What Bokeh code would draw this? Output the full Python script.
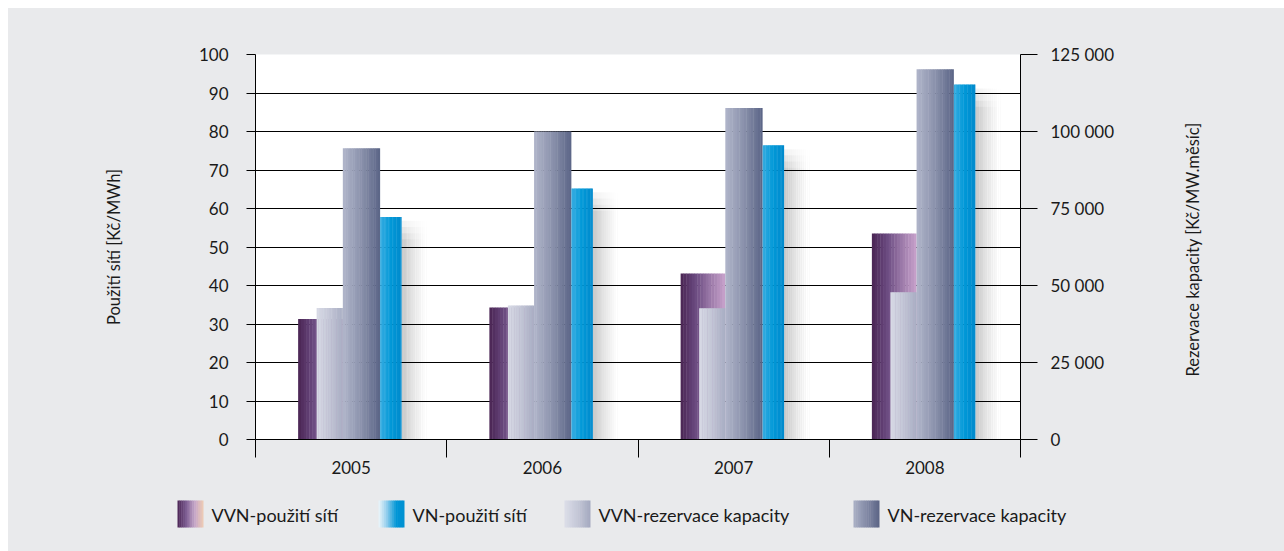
from bokeh.plotting import figure
from bokeh.models import Range1d, LinearAxis, FixedTicker, ColumnDataSource
from bokeh.layouts import column, row
from bokeh.embed import file_html
from bokeh.resources import INLINE
from bokeh.core.properties import value
import math

# ---------------- data ----------------
years = ["2005", "2006", "2007", "2008"]
vvn_pouziti = [31.3, 34.3, 43.1, 53.5]          # Kč/MWh (left axis)
vn_pouziti = [57.8, 65.2, 76.4, 92.2]           # Kč/MWh (left axis)
vvn_rezervace = [42700, 43500, 42600, 47800]    # Kč/MW.měsíc (right axis)
vn_rezervace = [94600, 100000, 107600, 120200]  # Kč/MW.měsíc (right axis)
left_ticks = list(range(0, 101, 10))
right_ticks = [0, 25000, 50000, 75000, 100000, 125000]
right_tick_labels = ["0", "25 000", "50 000", "75 000", "100 000", "125 000"]
left_title = "Použití sítí [Kč/MWh]"
right_title = "Rezervace kapacity [Kč/MW.měsíc]"
legend_labels = ["VVN-použití sítí", "VN-použití sítí", "VVN-rezervace kapacity", "VN-rezervace kapacity"]

FONT = "Lato"
TXT = "#1a1a1a"
BG = "#e9eaec"

W_TOTAL, H = 1276, 482
RT_W = 110
W = W_TOTAL - RT_W
LEFT_B, TOP_B, BOT_B = 247, 46, 51
FRAME_W = 765
RIGHT_B = W - LEFT_B - FRAME_W
CW = FRAME_W / len(years)          # px per category

p = figure(width=W, height=H, output_backend="svg", toolbar_location=None, title=None,
           x_range=Range1d(0, len(years)), y_range=Range1d(0, 100),
           min_border_left=LEFT_B, min_border_right=RIGHT_B,
           min_border_top=TOP_B, min_border_bottom=BOT_B)
p.frame_align = False
p.extra_y_ranges = {"r": Range1d(0, 125000)}
p.background_fill_color = "white"
p.border_fill_color = BG
p.outline_line_color = None
p.xgrid.grid_line_color = None
p.ygrid.grid_line_color = "black"
p.ygrid.grid_line_width = 1


def hex2rgb(h):
    h = h.lstrip("#")
    return tuple(int(h[i:i + 2], 16) for i in (0, 2, 4))


def interp(stops, t):
    n = len(stops) - 1
    pos = t * n
    i = min(int(pos), n - 1)
    f = pos - i
    a, b = hex2rgb(stops[i]), hex2rgb(stops[i + 1])
    c = [round(a[k] + (b[k] - a[k]) * f) for k in range(3)]
    return "#%02x%02x%02x" % tuple(c)


def grad_bars(fig, values, x0, x1, stops, n=16, y_range_name="default"):
    L, R, T, C = [], [], [], []
    for i, v in enumerate(values):
        c = i + 0.5
        for k in range(n):
            l = c + (x0 + (x1 - x0) * k / n) / CW
            r = c + (x0 + (x1 - x0) * (k + 1) / n + (0.4 if k < n - 1 else 0)) / CW
            L.append(l); R.append(r); T.append(v); C.append(interp(stops, (k + 0.5) / n))
    src = ColumnDataSource(dict(left=L, right=R, top=T, color=C))
    fig.quad(left="left", right="right", top="top", bottom=0, fill_color="color",
             line_color=None, source=src, y_range_name=y_range_name)


PURPLE = ["#4a2553", "#6a4a80", "#9c7aa9", "#c9a3cc"]
LGREY = ["#d8dae6", "#c3c6d6", "#a8adc3"]
DGREY = ["#b0b5ca", "#8a91ab", "#5a6486"]
BLUE = ["#36ace1", "#0098d7", "#0089cc"]

# soft shadow right of the blue bars (horizontal and vertical fade)
SH = dict(left=[], right=[], top=[], alpha=[])
for i, v in enumerate(vn_pouziti):
    c = i + 0.5
    n = 14
    for k in range(n):
        a = 0.22 * (1 - k / n) ** 1.5
        for j in range(4):
            SH["left"].append(c + (50.5 + 28 * k / n) / CW)
            SH["right"].append(c + (50.5 + 28 * (k + 1) / n) / CW)
            SH["top"].append(v - 1 - 1.6 * j)
            SH["alpha"].append(a / 4)
p.quad(left="left", right="right", top="top", bottom=0, fill_color="black",
       fill_alpha="alpha", line_color=None, source=ColumnDataSource(SH))

grad_bars(p, vvn_pouziti, -53, -8.3, PURPLE)
grad_bars(p, vvn_rezervace, -34.5, -8.3, LGREY, y_range_name="r")
grad_bars(p, vn_rezervace, -8.3, 29, DGREY, y_range_name="r")
grad_bars(p, vn_pouziti, 29, 50.5, BLUE)

# left axis
ya = p.yaxis[0]
ya.ticker = FixedTicker(ticks=left_ticks)
ya.axis_line_color = "black"
ya.major_tick_line_color = "black"
ya.major_tick_out = 9
ya.major_tick_in = 0
ya.minor_tick_line_color = None
ya.major_label_standoff = 18
ya.major_label_text_font = FONT
ya.major_label_text_font_size = "17px"
ya.major_label_text_color = TXT
ya.axis_label = left_title
ya.axis_label_standoff = 72
ya.axis_label_text_font = FONT
ya.axis_label_text_font_size = "16.5px"
ya.axis_label_text_font_style = "normal"
ya.axis_label_text_color = TXT

# right axis
ra = LinearAxis(y_range_name="r", ticker=FixedTicker(ticks=right_ticks),
                major_label_overrides={t: l for t, l in zip(right_ticks, right_tick_labels)})
ra.major_tick_out = 17
ra.major_tick_in = 0
ra.minor_tick_line_color = None
ra.major_label_standoff = 13
ra.major_label_text_font = FONT
ra.major_label_text_font_size = "17px"
ra.major_label_text_color = TXT
p.add_layout(ra, "right")

# x axis
xa = p.xaxis[0]
centers = [i + 0.5 for i in range(len(years))]
xa.ticker = FixedTicker(ticks=centers, minor_ticks=list(range(len(years) + 1)))
xa.major_label_overrides = {c: y for c, y in zip(centers, years)}
xa.major_tick_line_color = None
xa.major_tick_out = 0
xa.major_tick_in = 0
xa.minor_tick_line_color = "black"
xa.minor_tick_out = 18
xa.minor_tick_in = 0
xa.major_label_standoff = 3
xa.major_label_text_font = FONT
xa.major_label_text_font_size = "17px"
xa.major_label_text_color = TXT


def blank_fig(w, h):
    f = figure(width=w, height=h, output_backend="svg", toolbar_location=None, title=None,
               x_range=Range1d(0, w), y_range=Range1d(0, h),
               min_border=0, min_border_left=0, min_border_right=0, min_border_top=0, min_border_bottom=0)
    f.frame_align = False
    f.background_fill_color = BG
    f.border_fill_color = BG
    f.outline_line_color = None
    f.xaxis.visible = False
    f.yaxis.visible = False
    f.xgrid.visible = False
    f.ygrid.visible = False
    return f


# ---------------- right title strip ----------------
rt = blank_fig(RT_W, H)
rt.text(x=[1192 - 8 - W], y=[H - (249 - 8)], text=[right_title], angle=math.pi / 2,
        text_font=value(FONT), text_font_size="16.5px", text_color=TXT,
        text_align="center", text_baseline="middle")

# ---------------- legend strip ----------------
LH = 61
lg = blank_fig(W_TOTAL, LH)
sw_x = [169, 370, 556, 845]
sw_w = 26
sw_stops = [
    ["#4a2454", "#7e5e93", "#c6a7c9", "#f0cdb4"],
    ["#eef6fb", "#8fcdec", "#0096d6", "#0090d2"],
    ["#dcdee8", "#c4c7d7", "#a4a9bf"],
    ["#aab0c5", "#838aa6", "#5b6485"],
]
for sx, st in zip(sw_x, sw_stops):
    n = 14
    L, R, C = [], [], []
    for k in range(n):
        L.append(sx + sw_w * k / n)
        R.append(sx + sw_w * (k + 1) / n + (0.4 if k < n - 1 else 0))
        C.append(interp(st, (k + 0.5) / n))
    lg.quad(left=L, right=R, top=51, bottom=24, fill_color=C, line_color=None)

lg.text(x=[x + sw_w + 8 for x in sw_x], y=[37] * 4, text=legend_labels,
        text_font=value(FONT), text_font_size="18px", text_color=TXT,
        text_baseline="middle", text_align="left")

top_row = row(p, rt, spacing=0, styles={"background-color": BG})
layout = column(top_row, lg, spacing=0, margin=(8, 0, 0, 8), styles={"background-color": BG})
open("out.html", "w").write(file_html(layout, INLINE))
